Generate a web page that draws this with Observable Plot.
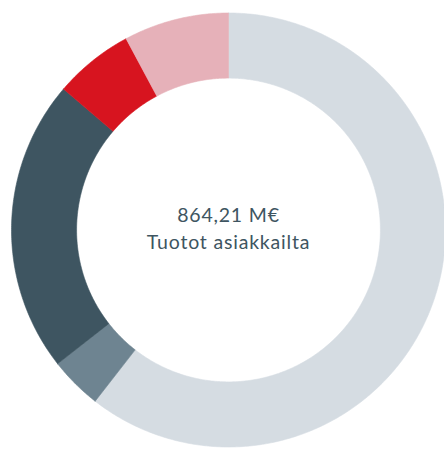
<!DOCTYPE html>
<html>
<head>
<meta charset="utf-8">
<script src="https://cdn.jsdelivr.net/npm/d3@7"></script>
<script src="https://cdn.jsdelivr.net/npm/@observablehq/plot@0.6"></script>
<style>
  html, body { margin: 0; padding: 0; background: #fff; }
  #chart svg { display: block; }
</style>
</head>
<body>
<div id="chart"></div>
<script>
// Data (M€), clockwise from 12 o'clock
const categories = ["Segmentti A", "Segmentti B", "Segmentti C", "Segmentti D", "Segmentti E"];
const values = [523.1, 33.7, 188.6, 51.2, 67.6];
const palette = ["#d5dce2", "#6e8491", "#3e5561", "#d7141f", "#e6b1b9"];
const centerValue = "864,21 M€";
const centerLabel = "Tuotot asiakkailta";

const outerR = 1;
const innerR = 0.70;
const total = d3.sum(values);

// Build ring polygons in data units
const rows = [];
let acc = 0;
categories.forEach((cat, i) => {
  const a0 = acc / total * 2 * Math.PI;
  acc += values[i];
  const a1 = acc / total * 2 * Math.PI;
  const n = Math.max(8, Math.ceil((a1 - a0) / 0.01));
  const pts = [];
  for (let k = 0; k <= n; k++) {
    const a = a0 + (a1 - a0) * k / n;
    pts.push([outerR * Math.sin(a), outerR * Math.cos(a)]);
  }
  for (let k = n; k >= 0; k--) {
    const a = a0 + (a1 - a0) * k / n;
    pts.push([innerR * Math.sin(a), innerR * Math.cos(a)]);
  }
  pts.push(pts[0]);
  pts.forEach(([x, y]) => rows.push({cat, x, y}));
});

const cx = 228, cy = 229.5, R = 217;

const chart = Plot.plot({
  width: 444,
  height: 449,
  margin: 0,
  x: {domain: [-1, 1], range: [cx - R, cx + R], axis: null},
  y: {domain: [-1, 1], range: [cy + R, cy - R], axis: null},
  color: {domain: categories, range: palette},
  style: {fontFamily: "Lato, sans-serif", background: "#fff", letterSpacing: "0.8px"},
  marks: [
    Plot.line(rows, {x: "x", y: "y", z: "cat", fill: "cat", stroke: "cat", strokeWidth: 0.6, curve: "linear"}),
    Plot.text([centerValue + "\n" + centerLabel], {
      x: () => 0, y: () => 0, text: d => d,
      fontSize: 19.5, lineHeight: 1.37, fill: "#3e5561",
      textAnchor: "middle", lineAnchor: "middle", dy: -3
    })
  ]
});
document.getElementById("chart").appendChild(chart);
</script>
</body>
</html>
